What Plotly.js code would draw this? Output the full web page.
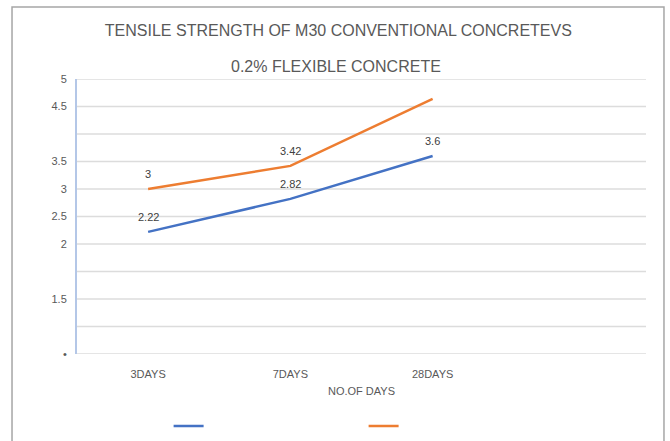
<!DOCTYPE html>
<html>
<head>
<meta charset="utf-8">
<script src="https://cdn.plot.ly/plotly-3.0.1.min.js"></script>
<style>html,body{margin:0;padding:0;background:#fff;}#chart{width:670px;height:441px;}</style>
</head>
<body>
<div id="chart"></div>
<script>
const categories = ["3DAYS", "7DAYS", "28DAYS"];
const conventional = [2.22, 2.82, 3.6];
const flexible = [3, 3.42, 4.64];
const conventionalLabels = ["2.22", "2.82", "3.6"];
const flexibleLabels = ["3", "3.42", ""];
const yTickVals = [0, 1, 2, 2.5, 3, 3.5, 4.5, 5];
const yTickText = ["•", "1.5", "2", "2.5", "3", "3.5", "4.5", "5"];

const FONT = "Liberation Sans, Arial, sans-serif";
const GRAY = "#595959";

const traces = [
  {
    x: categories, y: conventional, type: "scatter", mode: "lines",
    name: " ", line: {color: "#4472c4", width: 2.5}
  },
  {
    x: categories, y: flexible, type: "scatter", mode: "lines",
    name: " ", line: {color: "#ed7d31", width: 2.5}
  }
];

const annotations = [{
  text: "0.2% FLEXIBLE CONCRETE", xref: "paper", yref: "paper",
  x: 0.455, y: 1.045, xanchor: "center", yanchor: "middle", showarrow: false,
  font: {family: FONT, size: 16, color: GRAY}
}];
function addLabels(xs, ys, labels) {
  xs.forEach((c, i) => {
    if (!labels[i]) return;
    annotations.push({
      x: c, y: ys[i], xref: "x", yref: "y", text: labels[i], showarrow: false,
      yshift: 15, xanchor: "center", yanchor: "middle",
      font: {family: FONT, size: 11, color: "#404040"}
    });
  });
}
addLabels(categories, conventional, conventionalLabels);
addLabels(categories, flexible, flexibleLabels);

const layout = {
  width: 670, height: 441,
  margin: {l: 77, r: 24, t: 79, b: 87, autoexpand: false},
  paper_bgcolor: "#ffffff", plot_bgcolor: "#ffffff",
  font: {family: FONT, color: GRAY},
  title: {
    text: "TENSILE STRENGTH OF M30 CONVENTIONAL CONCRETEVS",
    font: {family: FONT, size: 16, color: GRAY},
    x: 0.505, xanchor: "center", y: 0.93, yanchor: "middle"
  },
  annotations: annotations,
  xaxis: {
    type: "category", range: [-0.5, 3.5],
    showgrid: false, zeroline: false, showline: false, ticks: "",
    ticklabelstandoff: 12,
    tickfont: {family: FONT, size: 11, color: GRAY},
    title: {text: "NO.OF DAYS", font: {family: FONT, size: 11, color: GRAY}, standoff: 8},
    fixedrange: true
  },
  yaxis: {
    range: [0, 5], tickmode: "array",
    tickvals: yTickVals, ticktext: yTickText,
    showgrid: false, zeroline: false,
    showline: true, linecolor: "#b4c7e7", linewidth: 2,
    ticks: "", ticklabelstandoff: 6,
    tickfont: {family: FONT, size: 11, color: GRAY},
    fixedrange: true
  },
  shapes: [],
  showlegend: true,
  legend: {
    orientation: "h", x: 0.161, xanchor: "left",
    yref: "container", y: 0.034, yanchor: "middle",
    entrywidth: 150, entrywidthmode: "pixels",
    font: {family: FONT, size: 10, color: GRAY}
  }
};

// horizontal gridlines every 0.5
const gridVals = [0, 0.5, 1, 1.5, 2, 2.5, 3, 3.5, 4, 4.5, 5];
gridVals.forEach(v => layout.shapes.push({
  type: "line", xref: "paper", yref: "y", x0: 0, x1: 1, y0: v, y1: v,
  line: {color: "#dcdcdc", width: 1.5}, layer: "below"
}));
// outer chart frame
layout.shapes.push({
  type: "rect", xref: "paper", yref: "paper",
  x0: -0.1142, x1: 1.0316, y0: -0.34, y1: 1.2618,
  line: {color: "#a6a6a6", width: 1.5}, layer: "below"
});

Plotly.newPlot("chart", traces, layout, {displayModeBar: false, staticPlot: true});
</script>
</body>
</html>
